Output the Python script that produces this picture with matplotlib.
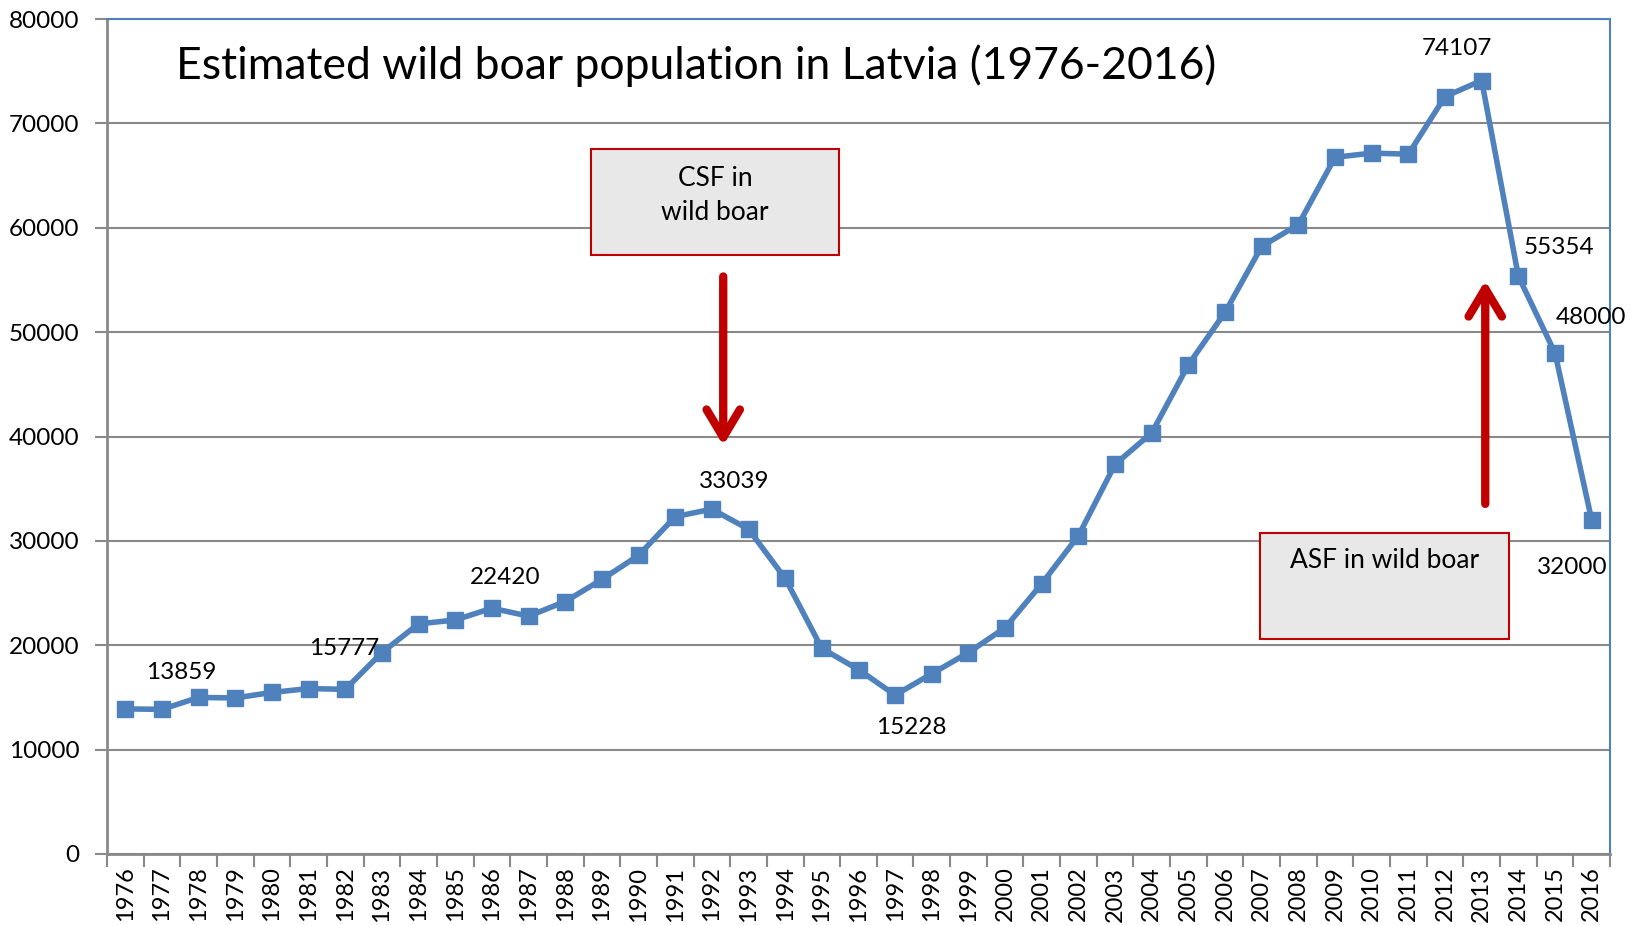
import numpy as np
import matplotlib
matplotlib.use('Agg')
import matplotlib.pyplot as plt
from matplotlib.patches import Rectangle

plt.rcParams['font.family'] = ['Lato', 'DejaVu Sans']

# estimated population
years = list(range(1976, 2017))
population = [13900, 13859, 15000, 14950, 15480, 15850, 15777, 19300, 22050, 22420,
              23550, 22790, 24190, 26300, 28610, 32320, 33039, 31120, 26400, 19700,
              17670, 15228, 17270, 19300, 21680, 25900, 30500, 37340, 40350, 46880,
              51900, 58220, 60300, 66750, 67150, 67050, 72570, 74107, 55354, 48000,
              32000]

# which points carry a value label, and where the label sits (pixels from the point)
label_years = [1977, 1982, 1985, 1992, 1997, 2013, 2014, 2015, 2016]
label_offsets = [(19, 37), (-1, 41), (50, 42), (22, 28), (16, -32),
                 (-25, 32), (41, 29), (36, 35), (-19, -47)]

blue = '#4F81BD'
red = '#C00000'
grey = '#898989'

fig = plt.figure(figsize=(16.42, 9.25), dpi=100)
ax = fig.add_axes([107 / 1642, 1 - 854 / 925, 1503 / 1642, 835 / 925])

x = np.arange(len(years))
ax.plot(x, population, color=blue, linewidth=4, marker='s', markersize=11,
        zorder=3)

for yr, (dx, dy) in zip(label_years, label_offsets):
    i = years.index(yr)
    ax.annotate(str(population[i]), xy=(x[i], population[i]), xytext=(dx, dy),
                textcoords='offset pixels', ha='center', va='center',
                fontsize=17.5, zorder=4, annotation_clip=False)

ax.set_xlim(-0.5, len(years) - 0.5)
ax.set_ylim(0, 80000)
ax.set_yticks(np.arange(0, 80001, 10000))
ax.set_xticks(x)
ax.set_xticklabels([str(y) for y in years], rotation=90)
ax.set_xticks(np.arange(-0.5, len(years)), minor=True)
ax.tick_params(axis='x', which='major', length=0, labelsize=17, pad=9)
ax.tick_params(axis='x', which='minor', length=9, width=1.5, color=grey, direction='out')
ax.tick_params(axis='y', length=9, width=1.5, color=grey, labelsize=17.5, pad=11)

ax.grid(axis='y', color=grey, linewidth=1.5)
ax.set_axisbelow(True)
for side in ['left', 'bottom']:
    ax.spines[side].set_color(grey)
    ax.spines[side].set_linewidth(2)
for side in ['top', 'right']:
    ax.spines[side].set_color(blue)
    ax.spines[side].set_linewidth(1.5)

ax.text(0.392, 0.944, 'Estimated wild boar population in Latvia (1976-2016)',
        transform=ax.transAxes, ha='center', va='center', fontsize=32)

# CSF box and arrow
ax.add_patch(Rectangle((0.322, 0.717), 0.165, 0.127, transform=ax.transAxes,
                       facecolor='#E8E8E8', edgecolor=red, linewidth=1.5, zorder=2))
ax.text(0.4045, 0.789, 'CSF in\nwild boar', transform=ax.transAxes, ha='center',
        va='center', fontsize=19, linespacing=1.45, zorder=3)
ax.annotate('', xy=(0.410, 0.486), xytext=(0.410, 0.695), xycoords='axes fraction',
            arrowprops=dict(arrowstyle='->,head_length=2.0,head_width=1.2',
                            color=red, lw=6, capstyle='round'))

# ASF box and arrow
ax.add_patch(Rectangle((0.767, 0.257), 0.166, 0.127, transform=ax.transAxes,
                       facecolor='#E8E8E8', edgecolor=red, linewidth=1.5, zorder=2))
ax.text(0.850, 0.352, 'ASF in wild boar', transform=ax.transAxes, ha='center',
        va='center', fontsize=19, zorder=3)
ax.annotate('', xy=(0.917, 0.690), xytext=(0.917, 0.416), xycoords='axes fraction',
            arrowprops=dict(arrowstyle='->,head_length=2.0,head_width=1.2',
                            color=red, lw=6, capstyle='round'))

plt.savefig('out.png', dpi=100)
